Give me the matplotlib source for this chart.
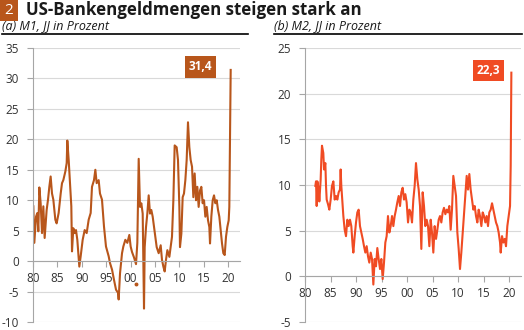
import matplotlib.pyplot as plt
from matplotlib.patches import Rectangle

plt.rcParams['font.family'] = ['Open Sans', 'DejaVu Sans']
plt.rcParams['axes.unicode_minus'] = False

# M1, yoy in %
m1_year = [1980.07, 1980.27, 1980.62, 1980.89, 1981.09, 1981.30, 1981.57, 1981.85, 1982.12, 1982.39,
           1982.80, 1983.08, 1983.35, 1983.62, 1983.90, 1984.17, 1984.58, 1984.85, 1985.26, 1985.68,
           1985.95, 1986.22, 1986.63, 1986.91, 1987.04, 1987.32, 1987.59, 1987.86, 1988.00, 1988.27,
           1988.55, 1988.82, 1989.09, 1989.50, 1989.78, 1990.19, 1990.60, 1991.01, 1991.42, 1991.83,
           1992.10, 1992.51, 1992.79, 1993.06, 1993.47, 1993.74, 1994.15, 1994.56, 1994.97, 1995.52,
           1995.79, 1996.21, 1996.62, 1997.03, 1997.44, 1997.57, 1997.85, 1998.26, 1998.53, 1998.94,
           1999.35, 1999.76, 2000.03, 2000.31, 2000.72, 2001.13, 2001.40, 2001.68, 2001.95, 2002.22,
           2002.50, 2002.77, 2002.91, 2003.18, 2003.45, 2003.73, 2004.00, 2004.27, 2004.55, 2004.82,
           2005.09, 2005.37, 2005.78, 2006.19, 2006.46, 2006.74, 2007.01, 2007.28, 2007.56, 2007.97,
           2008.24, 2008.51, 2008.79, 2009.06, 2009.47, 2009.74, 2010.02, 2010.15, 2010.43, 2010.70,
           2010.97, 2011.25, 2011.52, 2011.79, 2012.07, 2012.34, 2012.62, 2012.89, 2013.16, 2013.44,
           2013.71, 2013.98, 2014.26, 2014.53, 2014.80, 2015.08, 2015.35, 2015.62, 2015.90, 2016.17,
           2016.31, 2016.58, 2016.86, 2017.13, 2017.40, 2017.68, 2017.95, 2018.22, 2018.50, 2018.77,
           2019.04, 2019.32, 2019.59, 2019.86, 2020.14, 2020.27, 2020.55]
m1_value = [9.0, 3.0, 7.3, 7.9, 4.9, 12.1, 9.5, 4.6, 9.0, 3.8,
            8.4, 10.1, 12.2, 13.9, 11.1, 10.1, 6.8, 6.2, 7.9, 11.1,
            12.8, 13.3, 14.7, 16.1, 19.8, 16.6, 12.8, 9.0, 1.6, 5.4,
            4.6, 5.1, 3.5, -0.9, 0.8, 3.5, 5.1, 4.6, 6.8, 7.9,
            12.2, 13.3, 15.0, 12.8, 13.3, 11.1, 10.1, 5.7, 2.4, 0.8,
            -0.3, -1.4, -3.1, -4.7, -5.2, -6.3, -2.0, 1.3, 2.4, 3.5,
            3.0, 4.3, 2.4, 1.5, 0.6, -0.5, 3.0, 16.8, 8.9, 9.5,
            7.8, -7.8, 2.3, 5.6, 7.8, 10.8, 7.8, 8.4, 7.3, 5.6,
            4.0, 2.3, 1.3, 2.6, 0.2, -0.9, -1.7, 0.2, 1.8, 0.7,
            2.3, 4.0, 10.0, 19.0, 18.7, 16.6, 8.9, 2.3, 4.5, 10.5,
            11.1, 13.3, 16.6, 22.8, 18.7, 16.6, 15.5, 10.5, 14.4, 10.0,
            12.2, 8.9, 11.6, 12.2, 9.5, 10.0, 7.3, 8.9, 6.7, 5.6,
            2.9, 7.3, 10.0, 10.8, 9.5, 10.0, 8.4, 7.3, 5.1, 2.9,
            1.3, 1.0, 4.0, 5.6, 6.7, 8.9, 31.4]
m1_outlier_year = [2001.13]
m1_outlier_value = [-3.7]

# M2, yoy in %
m2_year = [1982.03, 1982.16, 1982.29, 1982.42, 1982.68, 1982.81, 1983.07, 1983.20, 1983.33, 1983.59,
           1983.73, 1983.99, 1984.12, 1984.25, 1984.51, 1984.77, 1985.03, 1985.29, 1985.56, 1985.82,
           1986.08, 1986.34, 1986.60, 1986.86, 1986.99, 1987.12, 1987.25, 1987.52, 1987.78, 1988.04,
           1988.30, 1988.56, 1988.82, 1989.08, 1989.35, 1989.48, 1989.74, 1990.00, 1990.26, 1990.52,
           1990.78, 1991.05, 1991.31, 1991.57, 1991.83, 1992.09, 1992.35, 1992.61, 1992.88, 1993.14,
           1993.40, 1993.66, 1993.92, 1994.18, 1994.44, 1994.71, 1994.97, 1995.23, 1995.49, 1995.75,
           1996.01, 1996.27, 1996.54, 1996.80, 1997.06, 1997.32, 1997.58, 1997.84, 1998.10, 1998.37,
           1998.63, 1998.89, 1999.15, 1999.41, 1999.67, 1999.93, 2000.20, 2000.46, 2000.72, 2000.98,
           2001.24, 2001.50, 2001.76, 2002.03, 2002.29, 2002.55, 2002.81, 2003.07, 2003.33, 2003.59,
           2003.86, 2004.12, 2004.38, 2004.64, 2004.90, 2005.16, 2005.42, 2005.69, 2005.95, 2006.21,
           2006.47, 2006.73, 2006.99, 2007.25, 2007.52, 2007.78, 2008.04, 2008.30, 2008.56, 2008.82,
           2009.08, 2009.35, 2009.61, 2009.87, 2010.13, 2010.39, 2010.65, 2010.92, 2011.18, 2011.44,
           2011.70, 2011.96, 2012.22, 2012.48, 2012.75, 2013.01, 2013.27, 2013.53, 2013.79, 2014.05,
           2014.31, 2014.58, 2014.84, 2015.10, 2015.36, 2015.62, 2015.88, 2016.14, 2016.41, 2016.67,
           2016.93, 2017.19, 2017.45, 2017.71, 2017.97, 2018.24, 2018.37, 2018.63, 2018.89, 2019.15,
           2019.41, 2019.67, 2019.93, 2020.20, 2020.33, 2020.46]
m2_value = [9.9, 10.4, 7.7, 10.4, 9.5, 8.2, 10.6, 12.8, 14.3, 13.5,
            11.7, 12.4, 9.9, 8.4, 7.9, 7.3, 8.4, 9.9, 10.4, 8.4,
            8.8, 8.4, 9.2, 9.5, 11.7, 9.9, 8.8, 6.6, 5.1, 4.4,
            6.2, 5.5, 6.2, 5.5, 3.3, 2.6, 4.4, 5.9, 7.0, 7.3,
            5.5, 4.8, 4.1, 3.3, 2.6, 3.3, 2.2, 1.5, 2.6, 1.9,
            -0.9, 1.9, 1.1, 3.1, 1.9, 0.8, 1.9, -0.3, 1.5, 3.7,
            4.4, 6.6, 4.8, 5.5, 6.6, 5.5, 6.6, 7.3, 8.1, 8.8,
            7.7, 9.2, 9.7, 8.4, 9.0, 8.1, 5.9, 7.3, 7.0, 5.9,
            8.4, 9.9, 12.4, 10.6, 9.5, 7.7, 3.0, 9.2, 7.7, 5.5,
            6.2, 5.5, 3.3, 6.2, 4.8, 2.6, 5.5, 4.1, 5.1, 6.2,
            6.6, 5.9, 7.0, 7.5, 6.8, 7.3, 7.0, 7.7, 5.1, 7.3,
            11.0, 9.9, 8.8, 4.8, 3.0, 0.8, 2.6, 4.8, 7.0, 9.2,
            11.0, 9.5, 11.2, 9.5, 8.4, 7.3, 7.7, 6.6, 5.9, 7.3,
            6.6, 5.5, 7.0, 6.6, 5.9, 6.6, 5.5, 7.0, 7.3, 8.0,
            7.3, 6.6, 5.9, 5.5, 4.8, 3.7, 2.6, 4.4, 3.7, 4.1,
            3.3, 5.5, 6.6, 7.7, 12.1, 22.3]

x_ticks = [1980, 1985, 1990, 1995, 2000, 2005, 2010, 2015, 2020]
x_labels = ['80', '85', '90', '95', '00', '05', '10', '15', '20']

m1_color = '#b8561b'
m2_color = '#f04b23'
grid_color = '#d9d9d9'
axis_color = '#a6a6a6'

fig = plt.figure(figsize=(5.24, 3.30), dpi=100)


def style_axes(ax, ylim, yticks, xmax):
    ax.set_xlim(1980, xmax)
    ax.set_ylim(*ylim)
    ax.set_yticks(yticks)
    ax.set_xticks(x_ticks)
    ax.set_xticklabels(x_labels)
    for s in ['top', 'right']:
        ax.spines[s].set_visible(False)
    ax.spines['bottom'].set_position(('data', 0))
    ax.spines['bottom'].set_color(axis_color)
    ax.spines['left'].set_color(axis_color)
    ax.grid(axis='y', color=grid_color, linewidth=0.8)
    ax.set_axisbelow(True)
    ax.tick_params(axis='both', colors=axis_color, labelcolor='#333333', labelsize=8.5, length=4, width=0.8)
    ax.tick_params(axis='y', pad=6)


# (a) M1
ax1 = fig.add_axes([33 / 524, 1 - 322 / 330, 207 / 524, 274 / 330])
style_axes(ax1, (-10, 35), range(-10, 36, 5), 2022.46)
ax1.plot(m1_year, m1_value, color=m1_color, linewidth=1.5, solid_joinstyle='round')
ax1.plot(m1_outlier_year, m1_outlier_value, 'o', color=m1_color, markersize=1.8)
ax1.text(m1_year[-1] - 6.2, m1_value[-1] + 0.5, '31,4', color='white', fontsize=8.5, fontweight='bold',
         ha='center', va='center',
         bbox=dict(boxstyle='square,pad=0.35', facecolor=m1_color, edgecolor='none'))

# (b) M2
ax2 = fig.add_axes([305 / 524, 1 - 322 / 330, 216 / 524, 274 / 330])
style_axes(ax2, (-5, 25), range(-5, 26, 5), 2022.35)
ax2.plot(m2_year, m2_value, color=m2_color, linewidth=1.5, solid_joinstyle='round')
ax2.text(m2_year[-1] - 4.5, m2_value[-1] + 0.2, '22,3', color='white', fontsize=8.5, fontweight='bold',
         ha='center', va='center',
         bbox=dict(boxstyle='square,pad=0.35', facecolor=m2_color, edgecolor='none'))

# header
fig.patches.append(Rectangle((0, 1 - 21 / 330), 18 / 524, 21 / 330, transform=fig.transFigure,
                             facecolor=m1_color, edgecolor='none'))
fig.text(9 / 524, 1 - 10.5 / 330, '2', color='white', fontsize=11, ha='center', va='center')
fig.text(26 / 524, 1 - 10 / 330, 'US-Bankengeldmengen steigen stark an', fontsize=12.2,
         fontweight='bold', ha='left', va='center', color='#1a1a1a')
fig.text(2 / 524, 1 - 26 / 330, '(a) M1, JJ in Prozent', fontsize=9, style='italic',
         ha='left', va='center', color='#1a1a1a')
fig.text(274 / 524, 1 - 26 / 330, '(b) M2, JJ in Prozent', fontsize=9, style='italic',
         ha='left', va='center', color='#1a1a1a')
fig.add_artist(plt.Line2D([2 / 524, 248 / 524], [1 - 34 / 330] * 2, color='black', linewidth=1.2))
fig.add_artist(plt.Line2D([274 / 524, 522 / 524], [1 - 34 / 330] * 2, color='black', linewidth=1.2))

fig.savefig('out.png', dpi=100)
